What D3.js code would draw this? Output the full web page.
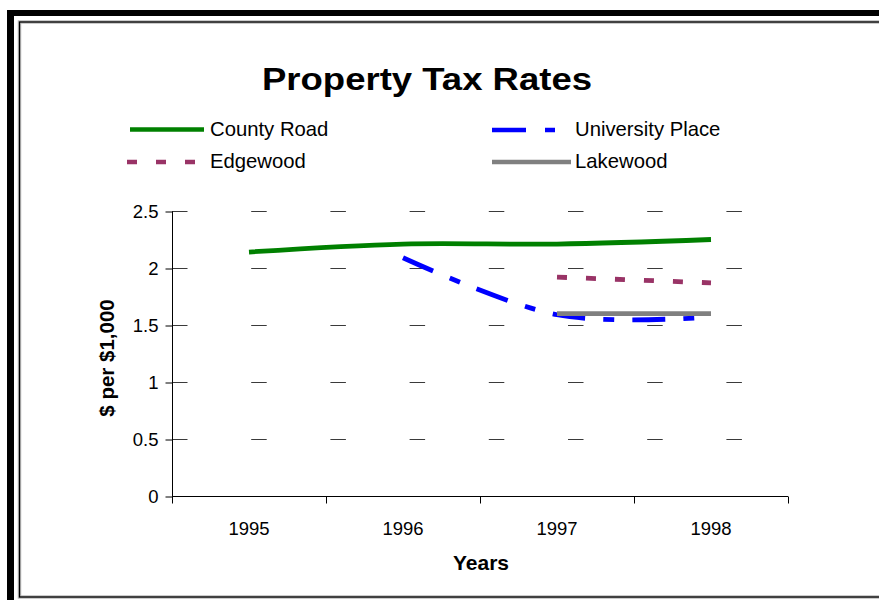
<!DOCTYPE html>
<html>
<head>
<meta charset="utf-8">
<script src="https://cdn.jsdelivr.net/npm/d3@7"></script>
<style>
  html, body { margin: 0; padding: 0; background: #fff; }
  svg { display: block; font-family: "Liberation Sans", Arial, Helvetica, sans-serif; }
</style>
</head>
<body>
<svg id="chart" width="879" height="600"></svg>
<script>
// Property tax rates, $ per $1,000 of assessed value
const years = ["1995", "1996", "1997", "1998"];
const countyRoad      = [2.14, 2.21, 2.21, 2.25];
const universityPlace = [null, 2.09, 1.59, 1.57];
const edgewood        = [null, null, 1.92, 1.87];
const lakewood        = [null, null, 1.60, 1.60];
const yTicks = [0, 0.5, 1, 1.5, 2, 2.5];
const yTickLabels = ["0", "0.5", "1", "1.5", "2", "2.5"];

const series = [
  { name: "County Road",      values: countyRoad,      color: "#008000", dash: null },
  { name: "University Place", values: universityPlace, color: "#0000ff", dash: "33,18,11,18" },
  { name: "Edgewood",         values: edgewood,        color: "#993366", dash: "10,19" },
  { name: "Lakewood",         values: lakewood,        color: "#808080", dash: null }
];

const svg = d3.select("#chart");

// Frame: heavy offset border plus thin inner border
svg.append("rect").attr("x", 7).attr("y", 10).attr("width", 7).attr("height", 590).attr("fill", "#000");
svg.append("rect").attr("x", 7).attr("y", 10).attr("width", 872).attr("height", 6).attr("fill", "#000");
svg.append("rect").attr("x", 19.5).attr("y", 22).attr("width", 880).attr("height", 575)
  .attr("fill", "none").attr("stroke", "#bbb").attr("stroke-width", 3.5);
svg.append("rect").attr("x", 19.5).attr("y", 22).attr("width", 880).attr("height", 575)
  .attr("fill", "none").attr("stroke", "#000").attr("stroke-width", 1.3);

// Scales
const x = d3.scaleBand().domain(years).range([172, 788]).padding(0);
const y = d3.scaleLinear().domain([0, 2.5]).range([496, 211]);
const cx = d => x(d) + x.bandwidth() / 2;

// Title
svg.append("text")
  .attr("x", 262).attr("y", 90)
  .attr("textLength", 330).attr("lengthAdjust", "spacingAndGlyphs")
  .attr("font-size", 31).attr("font-weight", "bold").attr("fill", "#000")
  .text("Property Tax Rates");

// Dashed gridlines
svg.append("g").selectAll("line")
  .data(yTicks.filter(t => t > 0))
  .join("line")
  .attr("x1", x.range()[0]).attr("x2", x.range()[1])
  .attr("y1", d => Math.round(y(d)) + 0.5).attr("y2", d => Math.round(y(d)) + 0.5)
  .attr("stroke", "#3a3a3a").attr("stroke-width", 1.2)
  .attr("stroke-dasharray", "15.5,63.7");

// Y axis
const yAxis = svg.append("g")
  .attr("transform", "translate(172.5,0.5)")
  .call(d3.axisLeft(y).tickValues(yTicks).tickSize(7).tickPadding(7)
    .tickFormat((d, i) => yTickLabels[i]));
yAxis.select(".domain").attr("d", `M0,${y(2.5)}V${y(0) + 7}`).attr("stroke", "#000");
yAxis.selectAll(".tick line").attr("stroke", "#000");
yAxis.selectAll(".tick text").attr("font-size", 18.5).attr("fill", "#000")
  .attr("font-family", "'Liberation Sans', Arial, sans-serif");

// X axis (category boundaries carry the ticks)
const xAxis = svg.append("g").attr("transform", `translate(0,${y(0) + 0.5})`);
xAxis.append("line")
  .attr("x1", x.range()[0]).attr("x2", x.range()[1])
  .attr("stroke", "#000");
xAxis.selectAll("line.tk")
  .data(years.map(d => x(d)).slice(1).concat([x.range()[1]]))
  .join("line").attr("class", "tk")
  .attr("x1", d => d + 0.5).attr("x2", d => d + 0.5)
  .attr("y1", 0).attr("y2", 7).attr("stroke", "#000");
xAxis.selectAll("text")
  .data(years)
  .join("text")
  .attr("x", d => cx(d)).attr("y", 38)
  .attr("text-anchor", "middle").attr("font-size", 18.5).attr("fill", "#000")
  .text(d => d);

// Axis titles
svg.append("text")
  .attr("x", 481).attr("y", 570)
  .attr("text-anchor", "middle").attr("font-size", 21).attr("font-weight", "bold")
  .text("Years");
svg.append("text")
  .attr("transform", "translate(114,358) rotate(-90)")
  .attr("text-anchor", "middle").attr("font-size", 20.5).attr("font-weight", "bold")
  .text("$ per $1,000");

// Lines (smoothed)
const line = d3.line()
  .defined(d => d.v != null)
  .x(d => cx(d.year))
  .y(d => y(d.v))
  .curve(d3.curveCardinal.tension(0));

svg.append("g").selectAll("path")
  .data(series)
  .join("path")
  .attr("d", s => line(years.map((yr, i) => ({ year: yr, v: s.values[i] }))))
  .attr("fill", "none")
  .attr("stroke", s => s.color)
  .attr("stroke-width", 4.8)
  .attr("stroke-dasharray", s => s.dash)
  .attr("stroke-linecap", "butt");

// Legend
const legendItems = [
  { s: series[0], x0: 130, x1: 204, ly: 129.5, tx: 210, ty: 136 },
  { s: series[2], x0: 127, x1: 204, ly: 162,   tx: 210, ty: 168 },
  { s: series[1], x0: 492, x1: 571, ly: 130,   tx: 575, ty: 136 },
  { s: series[3], x0: 492, x1: 571, ly: 162,   tx: 575, ty: 168 }
];
const lg = svg.append("g").selectAll("g").data(legendItems).join("g");
lg.append("line")
  .attr("x1", d => d.x0).attr("x2", d => d.x1)
  .attr("y1", d => d.ly).attr("y2", d => d.ly)
  .attr("stroke", d => d.s.color).attr("stroke-width", 4.6)
  .attr("stroke-dasharray", d => d.s.dash === "33,18,11,18" ? "34,19,10,19" : d.s.dash);
lg.append("text")
  .attr("x", d => d.tx).attr("y", d => d.ty)
  .attr("font-size", 20.3).attr("fill", "#000")
  .text(d => d.s.name);
</script>
</body>
</html>
